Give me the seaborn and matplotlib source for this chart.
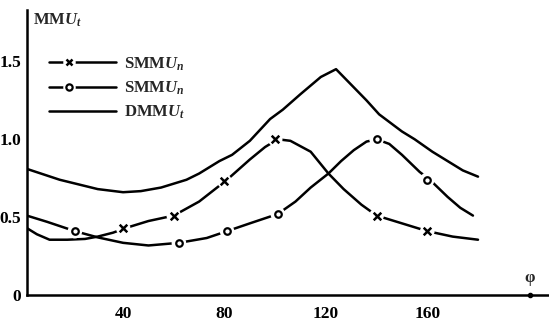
import numpy as np
import pandas as pd
import matplotlib
matplotlib.use("Agg")
import matplotlib.pyplot as plt
import seaborn as sns
from matplotlib.lines import Line2D
from matplotlib.legend_handler import HandlerBase

# ---- data ----
dmmu_x = [2, 15, 30, 40, 47, 55, 65, 70, 78, 83, 90, 98, 103, 110, 118, 124,
          130, 136, 141, 150, 155, 162, 168, 174, 180]
dmmu_y = [0.81, 0.74, 0.68, 0.66, 0.667, 0.69, 0.74, 0.78, 0.86, 0.90, 0.99, 1.13,
          1.19, 1.29, 1.40, 1.45, 1.35, 1.25, 1.16, 1.05, 1.00, 0.92, 0.86, 0.80, 0.76]

smmu_a_x = [2, 6, 11, 18, 25, 30, 36, 41, 50, 60, 70, 81, 90, 96, 101, 106, 114,
            121, 127, 134, 140, 150, 160, 170, 180]
smmu_a_y = [0.43, 0.39, 0.355, 0.355, 0.36, 0.375, 0.40, 0.43, 0.475, 0.51, 0.60,
            0.74, 0.87, 0.95, 1.0, 0.99, 0.92, 0.78, 0.68, 0.58, 0.51, 0.46, 0.41,
            0.375, 0.355]
smmu_a_mx = [40, 60, 80, 100, 140, 160]
smmu_a_my = [0.43, 0.51, 0.73, 1.0, 0.51, 0.41]

smmu_b_x = [2, 10, 21, 30, 40, 50, 62, 73, 81, 90, 101, 108, 114, 121, 126, 131,
            136, 140, 145, 150, 157, 161, 168, 173, 178]
smmu_b_y = [0.51, 0.47, 0.41, 0.37, 0.335, 0.318, 0.335, 0.366, 0.41, 0.46, 0.52,
            0.60, 0.69, 0.78, 0.86, 0.93, 0.985, 1.0, 0.97, 0.90, 0.79, 0.74, 0.63,
            0.56, 0.51]
smmu_b_mx = [21, 62, 81, 101, 140, 160]
smmu_b_my = [0.41, 0.335, 0.41, 0.52, 1.0, 0.74]

x_ticks = [40, 80, 120, 160]
y_ticks = [0, 0.5, 1.0, 1.5]
y_ticklabels = ["0", "0.5", "1.0", "1.5"]
labels = [r"SMM$U_n$", r"SMM$U_n$", r"DMM$U_t$"]

# ---- style ----
sns.set_theme(style="white")
plt.rcParams["font.family"] = ["Liberation Serif", "DejaVu Serif"]
plt.rcParams["font.weight"] = "bold"
plt.rcParams["mathtext.fontset"] = "custom"
plt.rcParams["mathtext.rm"] = "Liberation Serif:bold"
plt.rcParams["mathtext.it"] = "Liberation Serif:italic:bold"

W, H = 549, 326
fig = plt.figure(figsize=(W / 100, H / 100), dpi=100)
left_px, bottom_px, right_px, top_px = 27, 295, 549, 10
ax = fig.add_axes([left_px / W, (H - bottom_px) / H,
                   (right_px - left_px) / W, (bottom_px - top_px) / H])

lw = 1.8
sns.lineplot(x=dmmu_x, y=dmmu_y, ax=ax, color="black", lw=lw, estimator=None, sort=False)
sns.lineplot(x=smmu_a_x, y=smmu_a_y, ax=ax, color="black", lw=lw, estimator=None, sort=False)
sns.lineplot(x=smmu_b_x, y=smmu_b_y, ax=ax, color="black", lw=lw, estimator=None, sort=False)

# white halos create the gaps around markers
for mx, my in [(smmu_a_mx, smmu_a_my), (smmu_b_mx, smmu_b_my)]:
    sns.scatterplot(x=mx, y=my, ax=ax, marker="o", s=110, color="white",
                    edgecolor="none", zorder=3)
sns.scatterplot(x=smmu_a_mx, y=smmu_a_my, ax=ax, marker="x", s=30, color="black",
                linewidth=1.8, zorder=4)
sns.scatterplot(x=smmu_b_mx, y=smmu_b_my, ax=ax, marker="o", s=22, facecolor="white",
                edgecolor="black", linewidth=1.6, zorder=4)

ax.set_xlim(2.1, 208)
ax.set_ylim(0, 1.83)
sns.despine(ax=ax)
for s in ["left", "bottom"]:
    ax.spines[s].set_color("black")
    ax.spines[s].set_linewidth(1.8)

ax.set_xticks(x_ticks)
ax.set_xticklabels([str(v) for v in x_ticks])
ax.set_yticks(y_ticks)
ax.set_yticklabels(y_ticklabels)
ax.tick_params(axis="both", direction="in", length=8, width=1.8, color="black",
               labelsize=12.5, labelcolor="black")
ax.tick_params(axis="x", pad=8)
ax.tick_params(axis="y", pad=4)
for t in ax.get_xticklabels() + ax.get_yticklabels():
    t.set_fontweight("bold")

ax.set_xlabel("")
ax.set_ylabel("")
ax.text(0.012, 0.995, r"MM$U_t$", transform=ax.transAxes, fontsize=12,
        fontweight="bold", va="top", ha="left")
ax.text(200.5, 0.06, "φ", fontsize=12, fontweight="bold", ha="center", va="bottom")
ax.plot([200.5], [0], marker="o", ms=3, color="black", clip_on=False)


class GapHandler(HandlerBase):
    def __init__(self, marker=None):
        super().__init__()
        self.marker = marker

    def create_artists(self, legend, orig_handle, xdescent, ydescent, width,
                       height, fontsize, trans):
        y = height / 2 - ydescent
        x0 = -xdescent
        x1 = x0 + width
        arts = [Line2D([x0, x1], [y, y], color="black", lw=lw)]
        if self.marker is not None:
            xm = x0 + 0.3 * width
            arts.append(Line2D([xm], [y], lw=0, marker="o", ms=9, color="white",
                               markeredgecolor="none"))
            if self.marker == "x":
                arts.append(Line2D([xm], [y], lw=0, marker="x", ms=5, color="black",
                                   markeredgewidth=1.8))
            else:
                arts.append(Line2D([xm], [y], lw=0, marker="o", ms=4.5, color="black",
                                   markerfacecolor="white", markeredgewidth=1.6))
        for a in arts:
            a.set_transform(trans)
        return arts


hx = Line2D([], [])
ho = Line2D([], [])
hd = Line2D([], [])
leg = ax.legend([hx, ho, hd], labels,
                handler_map={hx: GapHandler("x"), ho: GapHandler("o"), hd: GapHandler(None)},
                loc="upper left", bbox_to_anchor=(0.03, 0.865), frameon=False,
                fontsize=12, handlelength=4.0, labelspacing=0.42, handletextpad=0.5,
                borderaxespad=0)
for t in leg.get_texts():
    t.set_fontweight("bold")

fig.savefig("out.png", dpi=100)
